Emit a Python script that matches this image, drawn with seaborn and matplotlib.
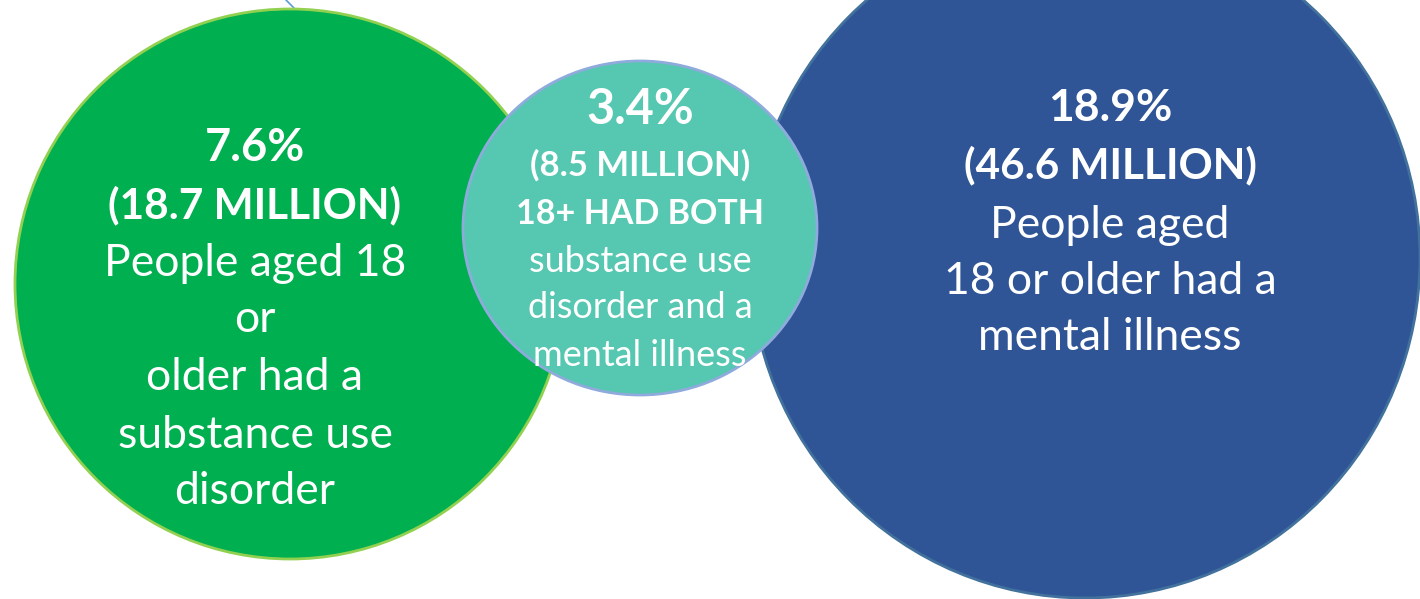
import matplotlib
matplotlib.use("Agg")
import matplotlib.pyplot as plt
from matplotlib.patches import Ellipse
import seaborn as sns

# ---- data ----
groups = ["substance", "both", "mental"]
percents = ["7.6%", "3.4%", "18.9%"]
millions = ["(18.7 MILLION)", "(8.5 MILLION)", "(46.6 MILLION)"]
extra_bold = [None, "18+ HAD BOTH", None]
descriptions = [
    ["People aged 18", "or", "older had a", "substance use", "disorder"],
    ["substance use", "disorder and a", "mental illness"],
    ["People aged", "18 or older had a", "mental illness"],
]

# ---- layout / style ----
W, H = 1420, 599
sns.set_theme(style="white")
plt.rcParams["font.family"] = ["Lato", "DejaVu Sans"]

fig = plt.figure(figsize=(W / 100, H / 100), dpi=100)
ax = fig.add_axes([0, 0, 1, 1])
ax.set_xlim(0, W)
ax.set_ylim(H, 0)
ax.set_axis_off()

shapes = {
    "substance": dict(c=(290, 284), w=550, h=550, fc="#00AF50", ec="#92D050", z=1),
    "mental": dict(c=(1085, 258), w=670, h=680, fc="#2F5597", ec="#41719C", z=2),
    "both": dict(c=(640, 228), w=354, h=334, fc="#56C7B0", ec="#8FAADC", z=3),
}

# small connector stub at the top
ax.plot([286, 294], [0, 8], color="#5B9BD5", lw=1.2, zorder=0)

patches = {}
for g in groups:
    s = shapes[g]
    e = Ellipse(s["c"], s["w"], s["h"], facecolor=s["fc"], edgecolor=s["ec"],
                lw=2, zorder=s["z"])
    ax.add_patch(e)
    patches[g] = e

text_layout = {
    "substance": dict(x=255, pct=(148, 32.5), mil=(205, 30.5), bold=None,
                      desc_y=[263, 320, 378, 436, 492], desc_fs=32),
    "both": dict(x=640, pct=(110, 35), mil=(165, 25), bold=(214, 24.5),
                 desc_y=[262, 308, 355], desc_fs=26),
    "mental": dict(x=1110, pct=(108, 32), mil=(165, 30.5), bold=None,
                   desc_y=[225, 282, 338], desc_fs=32),
}

for i, g in enumerate(groups):
    L = text_layout[g]
    z = shapes[g]["z"] + 0.5
    ts = []
    ts.append(ax.text(L["x"], L["pct"][0], percents[i], color="white",
                      fontsize=L["pct"][1], fontweight="bold",
                      ha="center", va="center", zorder=z))
    ts.append(ax.text(L["x"], L["mil"][0], millions[i], color="white",
                      fontsize=L["mil"][1], fontweight="bold",
                      ha="center", va="center", zorder=z))
    if extra_bold[i]:
        ts.append(ax.text(L["x"], L["bold"][0], extra_bold[i], color="white",
                          fontsize=L["bold"][1], fontweight="bold",
                          ha="center", va="center", zorder=z))
    for line, y in zip(descriptions[i], L["desc_y"]):
        ts.append(ax.text(L["x"], y, line, color="white", fontsize=L["desc_fs"],
                          ha="center", va="center", zorder=z))
    if g == "both":
        for t in ts:
            t.set_clip_path(patches[g])

fig.savefig("out.png", dpi=100)
